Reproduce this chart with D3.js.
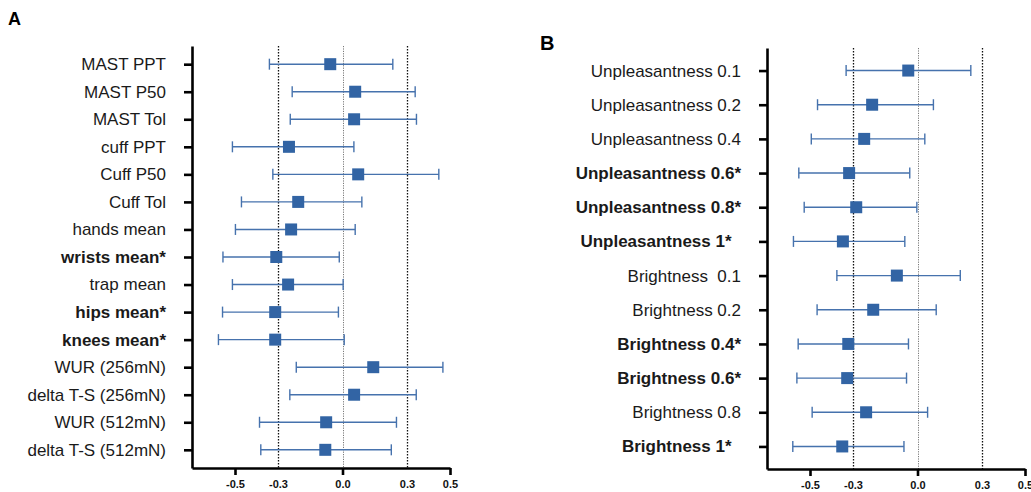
<!DOCTYPE html>
<html>
<head>
<meta charset="utf-8">
<script src="https://cdn.jsdelivr.net/npm/d3@7"></script>
<style>
  html, body { margin: 0; padding: 0; background: #fff; }
  svg { display: block; }
  .ylab text { font-family: "Liberation Sans", Arial, sans-serif; font-size: 17px; fill: #1a1a1a; white-space: pre; }
  .xax text { font-family: "Liberation Sans", Arial, sans-serif; font-size: 11px; font-weight: bold; fill: #111; }
</style>
</head>
<body>
<script>
// ---- Panel A data ----
const categoriesA = ["MAST PPT", "MAST P50", "MAST Tol", "cuff PPT", "Cuff P50", "Cuff Tol", "hands mean",
  "wrists mean*", "trap mean", "hips mean*", "knees mean*", "WUR (256mN)", "delta T-S (256mN)", "WUR (512mN)", "delta T-S (512mN)"];
const meanA  = [-0.057, 0.059, 0.054, -0.249, 0.073, -0.206, -0.239, -0.308, -0.253, -0.313, -0.313, 0.143, 0.054, -0.076, -0.080];
const lowerA = [-0.340, -0.234, -0.243, -0.512, -0.324, -0.470, -0.498, -0.556, -0.512, -0.558, -0.577, -0.215, -0.245, -0.386, -0.380];
const upperA = [0.234, 0.338, 0.344, 0.053, 0.448, 0.090, 0.059, -0.015, 0.003, -0.019, 0.008, 0.467, 0.343, 0.251, 0.227];
const boldA  = ["wrists mean*", "hips mean*", "knees mean*"];

// ---- Panel B data ----
const categoriesB = ["Unpleasantness 0.1", "Unpleasantness 0.2", "Unpleasantness 0.4", "Unpleasantness 0.6*",
  "Unpleasantness 0.8*", "Unpleasantness 1*  ", "Brightness  0.1", "Brightness 0.2", "Brightness 0.4*",
  "Brightness 0.6*", "Brightness 0.8", "Brightness 1*  "];
const meanB  = [-0.043, -0.211, -0.248, -0.318, -0.285, -0.347, -0.096, -0.206, -0.322, -0.327, -0.239, -0.350];
const lowerB = [-0.332, -0.465, -0.494, -0.552, -0.527, -0.577, -0.375, -0.467, -0.555, -0.561, -0.490, -0.580];
const upperB = [0.248, 0.074, 0.034, -0.036, -0.003, -0.059, 0.199, 0.087, -0.042, -0.051, 0.047, -0.063];
const boldB  = ["Unpleasantness 0.6*", "Unpleasantness 0.8*", "Unpleasantness 1*  ", "Brightness 0.4*", "Brightness 0.6*", "Brightness 1*  "];

// ---- Axis ticks ----
const xDomain = [-0.7, 0.5];
const xTicks = [-0.5, -0.3, 0.0, 0.3, 0.5];
const xMajorTicks = [-0.5, 0.0, 0.5];
const refLines = [-0.3, 0.0, 0.3];

const W = 1031, H = 492;
const svg = d3.select("body").append("svg").attr("width", W).attr("height", H);

function panel(opts) {
  const { cats, mean, lower, upper, bold, x0, x1, y0, y1, letter, lx, ly, lsize } = opts;
  const g = svg.append("g");
  const x = d3.scaleLinear().domain(xDomain).range([x0, x1]);
  const y = d3.scalePoint().domain(cats).range([y0, y1]).padding(0.66);

  // reference lines
  g.selectAll("line.ref").data(refLines).join("line")
    .attr("class", "ref")
    .attr("x1", d => Math.round(x(d)) + 0.5).attr("x2", d => Math.round(x(d)) + 0.5)
    .attr("y1", y0).attr("y2", y1)
    .attr("stroke", d => d === 0 ? "#6a6a6a" : "#111")
    .attr("stroke-width", d => d === 0 ? 0.9 : 1.3)
    .attr("stroke-dasharray", d => d === 0 ? "1.2,1.2" : "1.5,1.5");

  // error bars
  const rows = cats.map((c, i) => ({ c, m: mean[i], lo: lower[i], hi: upper[i] }));
  const bars = g.selectAll("g.bar").data(rows).join("g").attr("class", "bar");
  bars.append("line")
    .attr("x1", d => x(d.lo)).attr("x2", d => x(d.hi))
    .attr("y1", d => y(d.c)).attr("y2", d => y(d.c))
    .attr("stroke", "#4672ad").attr("stroke-width", 1.4);
  bars.append("line")
    .attr("x1", d => x(d.lo)).attr("x2", d => x(d.lo))
    .attr("y1", d => y(d.c) - 5.5).attr("y2", d => y(d.c) + 5.5)
    .attr("stroke", "#4672ad").attr("stroke-width", 1.4);
  bars.append("line")
    .attr("x1", d => x(d.hi)).attr("x2", d => x(d.hi))
    .attr("y1", d => y(d.c) - 5.5).attr("y2", d => y(d.c) + 5.5)
    .attr("stroke", "#4672ad").attr("stroke-width", 1.4);
  bars.append("rect")
    .attr("x", d => x(d.m) - 6).attr("y", d => y(d.c) - 6)
    .attr("width", 12).attr("height", 12)
    .attr("fill", "#3264a4");

  // y axis
  const yAxis = g.append("g").attr("class", "ylab")
    .attr("transform", `translate(${x0},0)`)
    .call(d3.axisLeft(y).tickSize(8).tickSizeOuter(0).tickPadding(18));
  yAxis.selectAll("path.domain").attr("stroke", "#000").attr("stroke-width", 2.6);
  yAxis.selectAll(".tick line").attr("stroke", "#000").attr("stroke-width", 2.6);
  yAxis.selectAll(".tick text").attr("font-weight", d => bold.includes(d) ? "bold" : "normal");

  // x axis
  const xAxis = g.append("g").attr("class", "xax")
    .attr("transform", `translate(0,${y1})`)
    .call(d3.axisBottom(x).tickValues(xTicks).tickSize(7).tickSizeOuter(0).tickPadding(5)
      .tickFormat(d3.format(".1f")));
  xAxis.selectAll("path.domain").attr("stroke", "#000").attr("stroke-width", 2.6);
  xAxis.selectAll(".tick line").attr("stroke", "#000").attr("stroke-width", 2.6)
    .attr("opacity", d => xMajorTicks.includes(d) ? 1 : 0);
  xAxis.selectAll(".tick text").text(d => d3.format(".1f")(d).replace("−", "-"));

  // panel letter
  svg.append("text").attr("x", lx).attr("y", ly)
    .attr("font-family", "'Liberation Sans', Arial, sans-serif")
    .attr("font-weight", "bold").attr("font-size", lsize).attr("fill", "#000")
    .text(letter);
}

panel({ cats: categoriesA, mean: meanA, lower: lowerA, upper: upperA, bold: boldA,
  x0: 192, x1: 450, y0: 46, y1: 468, letter: "A", lx: 8, ly: 25, lsize: 18 });
panel({ cats: categoriesB, mean: meanB, lower: lowerB, upper: upperB, bold: boldB,
  x0: 767, x1: 1025, y0: 48, y1: 469, letter: "B", lx: 540, ly: 50, lsize: 20 });
</script>
</body>
</html>
